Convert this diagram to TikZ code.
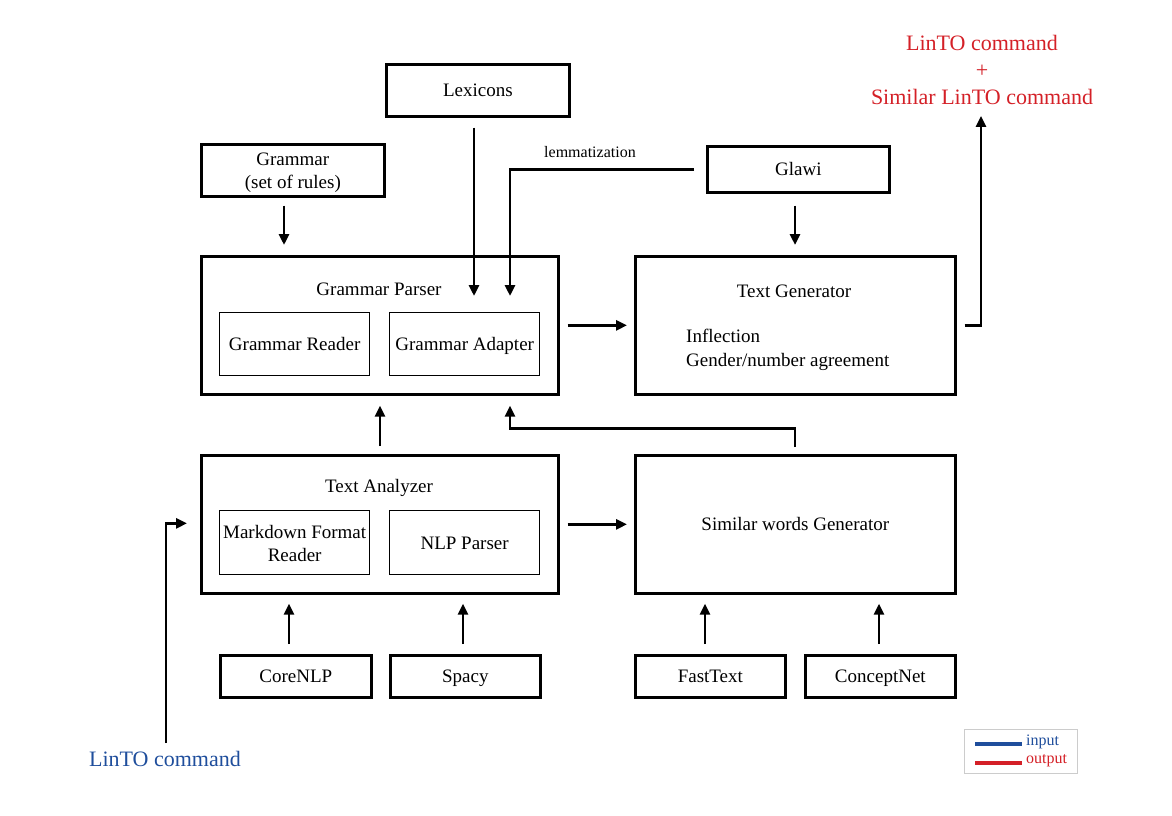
\documentclass[tikz,border=0pt]{standalone}
\usepackage{fontspec}
\setmainfont{Liberation Serif}
\usetikzlibrary{arrows.meta}
\definecolor{inblue}{RGB}{31,78,156}
\definecolor{outred}{RGB}{212,32,39}
\begin{document}
\begin{tikzpicture}[x=1pt,y=-1pt,
  fnt/.style={font=\fontsize{19}{23}\selectfont},
  one/.style={text height=15pt,text depth=2pt},
  outer/.style={draw,line width=2.7pt,anchor=north west,inner sep=0pt,fnt,align=center},
  inner/.style={draw,line width=1.3pt,anchor=north west,inner sep=0pt,align=center,fnt},
  lbl/.style={fnt,inner sep=0pt,align=center},
  arr/.style={line width=2.8pt,-{Triangle[length=11pt,width=10pt]}}]
\useasboundingbox (0,0) rectangle (1172,816);
% top boxes
\node[outer,one,minimum width=183pt,minimum height=52pt] (lex) at (385,63) {Lexicons};
\node[outer,minimum width=183pt,minimum height=52pt] (gram) at (200,143) {};
\node[lbl] (gramt) at ([yshift=-2pt]gram.center) {Grammar\\(set of rules)};
\node[outer,one,minimum width=182pt,minimum height=46pt] (glawi) at (706,145) {Glawi};
% grammar parser
\node[outer,minimum width=357pt,minimum height=138pt] (gp) at (200,255) {};
\node[lbl] (gpt) at (379,289) {Grammar Parser};
\node[inner,one,minimum width=150pt,minimum height=63pt] (gr) at (219,312) {Grammar Reader};
\node[inner,one,minimum width=150pt,minimum height=63pt] (ga) at (389,312) {Grammar Adapter};
% text generator
\node[outer,minimum width=320pt,minimum height=138pt] (tg) at (634,255) {};
\node[lbl] (tgt) at (794,291) {Text Generator};
\node[lbl,anchor=west,align=left] (tgl) at (686,350) {Inflection\\[1pt]Gender/number agreement};
% text analyzer
\node[outer,minimum width=357pt,minimum height=138pt] (ta) at (200,454) {};
\node[lbl] (tat) at (379,488) {Text Analyzer};
\node[inner,minimum width=150pt,minimum height=64pt] (md) at (219,510) {};
\node[lbl] (mdt) at ([yshift=-1pt]md.center) {Markdown Format\\Reader};
\node[inner,one,minimum width=150pt,minimum height=64pt] (nlp) at (389,510) {NLP Parser};
% similar words
\node[outer,one,minimum width=320pt,minimum height=138pt] (sw) at (634,454) {Similar words Generator};
% bottom boxes
\node[outer,one,minimum width=151pt,minimum height=42pt] (core) at (219,654) {CoreNLP};
\node[outer,one,minimum width=150pt,minimum height=42pt] (spacy) at (389,654) {Spacy};
\node[outer,one,minimum width=150pt,minimum height=42pt] (fast) at (634,654) {FastText};
\node[outer,one,minimum width=150pt,minimum height=42pt] (cnet) at (804,654) {ConceptNet};
% labels
\node[font=\fontsize{16}{18}\selectfont,inner sep=0pt] (lem) at (590,152) {lemmatization};
\node[font=\fontsize{22}{27}\selectfont,text=outred,align=center,inner sep=0pt] (out) at (982,70) {LinTO command\\+\\Similar LinTO command};
\node[font=\fontsize{22}{26}\selectfont,text=inblue,inner sep=0pt] (in) at (165,759) {LinTO command};
% helper coordinates
\coordinate (c284) at (284,0);
\coordinate (c474) at (474,0);
\coordinate (c510) at (510,0);
\coordinate (c795) at (795,0);
\coordinate (c380) at (380,0);
\coordinate (c289) at (289,0);
\coordinate (c463) at (463,0);
\coordinate (c705) at (705,0);
\coordinate (c879) at (879,0);
\coordinate (c981) at (981,0);
\coordinate (c166) at (166,0);
% arrows
\draw[arr] ([yshift=-8pt]gram.south -| c284) -- ([yshift=10pt]gp.north -| c284);
\draw[arr] ([yshift=-10pt]lex.south -| c474) -- ([yshift=-41pt]gp.north -| c474);
\draw[arr] ([xshift=-12pt]glawi.west) -| ([yshift=-41pt]gp.north -| c510);
\draw[arr] ([yshift=-12pt]glawi.south -| c795) -- ([yshift=10pt]tg.north -| c795);
\draw[arr] ([xshift=8pt]gp.east) -- ([xshift=-7pt]tg.west);
\draw[arr] ([xshift=8pt]tg.east) -| ([yshift=-11pt]out.south -| c981);
\draw[arr] ([yshift=8pt]ta.north -| c380) -- ([yshift=-10pt]gp.south -| c380);
\draw[arr] ([yshift=7pt]sw.north -| c795) |- ([yshift=-33pt]gp.south -| c795) -| ([yshift=-10pt]gp.south -| c510);
\draw[arr] ([xshift=8pt]ta.east |- sw.center) -- ([xshift=-7pt]sw.west |- sw.center);
\draw[arr] ([yshift=8pt]in.north -| c166) |- ([xshift=-13pt,yshift=1pt]ta.west |- sw.center);
\draw[arr] ([yshift=10pt]core.north -| c289) -- ([yshift=-9pt]ta.south -| c289);
\draw[arr] ([yshift=10pt]spacy.north -| c463) -- ([yshift=-9pt]ta.south -| c463);
\draw[arr] ([yshift=10pt]fast.north -| c705) -- ([yshift=-9pt]sw.south -| c705);
\draw[arr] ([yshift=10pt]cnet.north -| c879) -- ([yshift=-9pt]sw.south -| c879);
% legend
\node[draw=black!20,line width=0.8pt,minimum width=113pt,minimum height=44pt,anchor=north west,inner sep=0pt] (leg) at (964,729) {};
\coordinate (lb1) at (975,744);
\coordinate (lb2) at (1022,744);
\coordinate (lr1) at (975,763);
\coordinate (lr2) at (1022,763);
\draw[inblue,line width=3.5pt] (lb1) -- (lb2);
\draw[outred,line width=3.5pt] (lr1) -- (lr2);
\node[font=\fontsize{16}{18}\selectfont,text=inblue,anchor=west,inner sep=0pt] (lin) at (1026,742) {input};
\node[font=\fontsize{16}{18}\selectfont,text=outred,anchor=west,inner sep=0pt] (lout) at (1026,761) {output};
\end{tikzpicture}
\end{document}
